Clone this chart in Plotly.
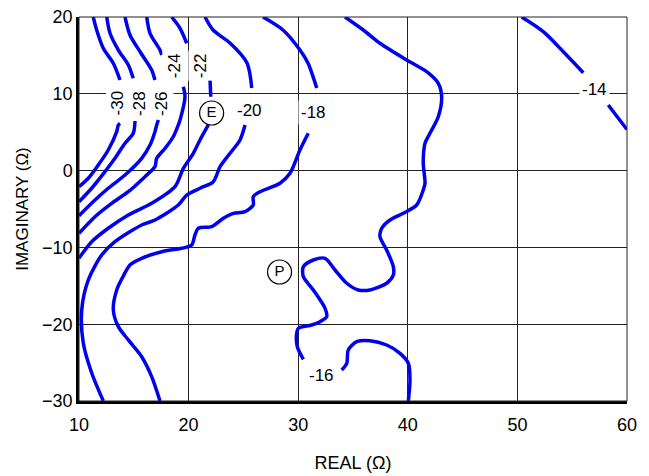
import plotly.graph_objects as go

# ---- contour segments (REAL, IMAGINARY) ----
c30a_re = [11.30, 11.61, 12.22, 13.13, 13.74]
c30a_im = [20.0, 18.31, 15.92, 13.97, 11.80]
c30b_re = [13.74, 13.59, 13.44, 12.67, 11.76, 10.85, 10.0]
c30b_im = [6.16, 5.94, 5.07, 2.68, 0.73, -1.0, -2.1]

c28a_re = [12.53, 12.83, 13.59, 14.50, 14.95]
c28a_im = [20.0, 17.88, 15.70, 13.75, 12.02]
c28b_re = [15.11, 14.95, 14.20, 13.28, 12.37, 11.16, 10.0]
c28b_im = [6.46, 4.86, 3.56, 1.60, -0.14, -2.30, -4.05]

c26a_re = [14.20, 14.65, 15.57, 16.63, 16.93]
c26a_im = [20.0, 17.66, 15.48, 13.10, 11.80]
c26b_re = [17.24, 17.09, 16.93, 16.48, 15.72, 14.20, 12.67, 11.46, 10.0]
c26b_im = [6.59, 5.94, 5.07, 3.33, 1.60, -0.57, -2.30, -3.83, -5.87]

c24a_re = [16.18, 16.48, 17.39, 17.55]
c24a_im = [20.0, 17.88, 15.70, 15.05]
c24b_re = [19.52, 19.67, 19.22, 19.06, 18.60, 17.85, 17.09, 16.93, 16.02, 14.50, 12.98, 11.46, 10.0]
c24b_im = [10.92, 9.62, 6.59, 5.94, 4.41, 2.90, 1.60, 0.51, -0.79, -2.75, -4.26, -6.0, -8.16]

c22a_re = [18.46, 19.22, 19.83]
c22a_im = [20.0, 18.53, 16.58]
c22b_re = [21.95, 22.02]
c22b_im = [12.02, 9.62]
c22c_re = [21.80, 21.04, 20.43, 19.52, 18.76, 16.63, 14.50, 12.67, 11.16, 10.0]
c22c_im = [5.94, 3.99, 2.25, 0.30, -2.09, -4.26, -5.78, -7.51, -9.26, -11.4]

c20a_re = [21.50, 22.23, 23.78, 25.33, 25.76]
c20a_im = [20.0, 18.31, 16.61, 14.01, 10.76]
c20b_re = [25.15, 24.69, 23.78, 22.87, 22.25, 21.04, 19.83, 19.06, 16.93, 15.72,
           13.28, 12.07, 10.85, 10.25, 10.39, 11.16, 12.22]
c20b_im = [5.94, 3.99, 2.25, 0.51, -1.44, -2.30, -3.18, -4.48, -6.43, -7.08,
           -9.26, -10.99, -14.24, -18.15, -22.45, -26.35, -30.0]

c18a_re = [26.79, 28.61, 30.16, 30.89, 31.69]
c18a_im = [20.0, 18.31, 15.70, 14.01, 10.76]
c18b_re = [30.92, 30.16, 29.25, 28.34, 26.51, 25.90, 25.90, 25.15, 24.08, 23.17,
           22.11, 20.89, 20.58, 20.28, 19.37, 17.55, 15.72, 14.65, 14.0, 13.44,
           13.13, 13.59, 14.50, 15.72, 16.63, 17.39]
c18b_im = [4.86, 2.68, -0.35, -1.65, -2.75, -3.40, -4.48, -5.35, -5.56, -6.21,
           -7.30, -7.51, -8.38, -9.69, -10.12, -10.56, -11.42, -12.29, -13.85, -15.54,
           -18.15, -20.32, -22.05, -24.23, -26.83, -30.0]

c16a_re = [34.27, 35.94, 37.46, 39.90, 41.72, 42.78, 43.09, 42.78, 42.02, 41.57,
           41.41, 41.57, 41.41, 40.81, 39.59, 38.38, 37.62, 37.46, 38.07, 38.68,
           38.68, 38.07, 36.55, 35.48, 34.43, 33.36, 32.45, 31.38, 30.47, 30.47,
           31.38, 32.45, 32.60, 31.99, 31.23, 30.01, 29.86, 29.92, 30.47]
c16a_im = [20.0, 18.31, 16.58, 14.40, 12.88, 11.37, 9.62, 7.02, 4.86, 3.56,
           0.95, -1.65, -2.52, -4.48, -5.56, -6.43, -7.51, -8.60, -10.34, -12.51,
           -13.59, -14.67, -15.54, -15.54, -14.67, -12.94, -11.42, -11.64, -12.51, -13.81,
           -15.54, -17.93, -19.02, -19.67, -20.10, -20.53, -21.18, -22.93, -24.57]
c16b_re = [33.97, 34.43, 34.57, 35.34, 36.55, 38.07, 39.29, 40.05, 40.20, 40.05]
c16b_im = [-25.96, -25.09, -23.36, -22.28, -22.15, -22.71, -23.79, -25.09, -27.26, -30.0]

c14a_re = [50.39, 52.36, 54.19, 56.01]
c14a_im = [20.0, 18.09, 15.48, 12.75]
c14b_re = [58.29, 60.0]
c14b_im = [8.54, 5.35]

segments = [
    (c30a_re, c30a_im), (c30b_re, c30b_im),
    (c28a_re, c28a_im), (c28b_re, c28b_im),
    (c26a_re, c26a_im), (c26b_re, c26b_im),
    (c24a_re, c24a_im), (c24b_re, c24b_im),
    (c22a_re, c22a_im), (c22b_re, c22b_im), (c22c_re, c22c_im),
    (c20a_re, c20a_im), (c20b_re, c20b_im),
    (c18a_re, c18a_im), (c18b_re, c18b_im),
    (c16a_re, c16a_im), (c16b_re, c16b_im),
    (c14a_re, c14a_im), (c14b_re, c14b_im),
]

# ---- contour labels ----
label_text = ["-30", "-28", "-26", "-24", "-22", "-20", "-18", "-16", "-14"]
label_re = [13.51, 15.47, 17.48, 18.67, 21.04, 25.56, 31.44, 32.14, 56.99]
label_im = [8.8, 8.8, 8.8, 13.6, 13.6, 7.85, 7.56, -26.72, 10.5]
label_angle = [-90, -90, -90, -90, -90, 0, 0, 0, 0]

# ---- marked points ----
point_text = ["E", "P"]
point_re = [22.1, 28.3]
point_im = [7.5, -13.2]

x_ticks = [10, 20, 30, 40, 50, 60]
y_ticks = [-30, -20, -10, 0, 10, 20]

FONT = "Liberation Sans, Arial, Helvetica, sans-serif"
BLUE = "#0000EE"

fig = go.Figure()
for xs, ys in segments:
    fig.add_trace(go.Scatter(
        x=xs, y=ys, mode="lines",
        line=dict(color=BLUE, width=3.5, shape="spline", smoothing=0.8),
        hoverinfo="skip", showlegend=False, cliponaxis=True))

fig.add_trace(go.Scatter(
    x=point_re, y=point_im, mode="markers+text", text=point_text,
    textposition="middle center",
    textfont=dict(family=FONT, size=15, color="black"),
    marker=dict(symbol="circle", size=24, color="white",
                line=dict(color="black", width=1.2)),
    showlegend=False, hoverinfo="skip"))

for t, xr, yi, ang in zip(label_text, label_re, label_im, label_angle):
    fig.add_annotation(x=xr, y=yi, text=t, showarrow=False, textangle=ang,
                       font=dict(family=FONT, size=17, color="black"),
                       bgcolor="white", borderpad=2)

fig.update_xaxes(range=[10, 60], tickvals=x_ticks, ticks="", showgrid=True,
                 gridcolor="#222222", gridwidth=1, zeroline=False, automargin=False,
                 showline=True, linecolor="black", linewidth=2.5,
                 ticklabelstandoff=6,
                 title=dict(text="REAL (Ω)", font=dict(family=FONT, size=18, color="black"),
                            standoff=23),
                 tickfont=dict(family=FONT, size=18, color="black"))
fig.update_yaxes(range=[-30, 20], tickvals=y_ticks, ticks="", showgrid=True,
                 gridcolor="#222222", gridwidth=1, zeroline=False, automargin=False,
                 showline=True, linecolor="black", linewidth=2.5,
                 title=dict(text="IMAGINARY (Ω)", font=dict(family=FONT, size=17, color="black"),
                            standoff=10),
                 tickfont=dict(family=FONT, size=18, color="black"))

fig.add_shape(type="rect", xref="paper", yref="paper", x0=0, y0=0, x1=1, y1=1,
              line=dict(color="#222222", width=1), layer="above")

fig.update_layout(width=649, height=476,
                  margin=dict(l=79, r=22, t=17, b=75),
                  plot_bgcolor="white", paper_bgcolor="white")

fig.write_html("out.html", config={"displayModeBar": False},
               post_script="document.body.style.margin='0px';")
